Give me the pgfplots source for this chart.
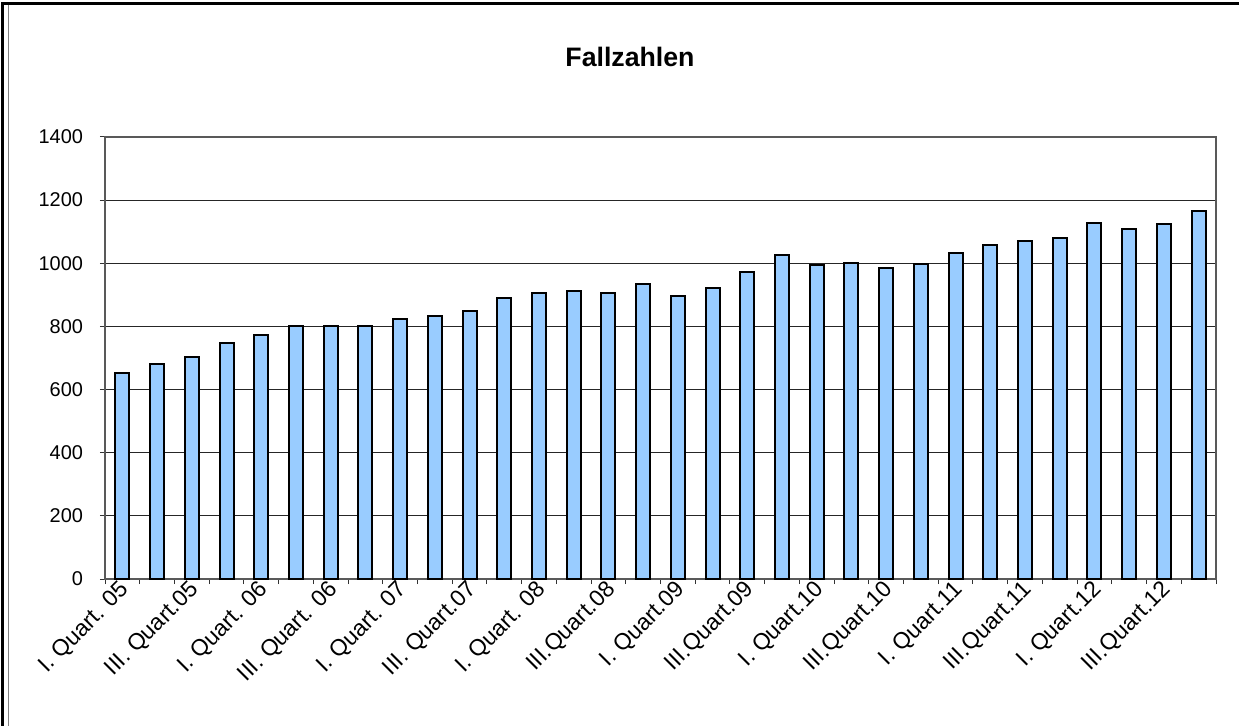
\documentclass[border=0pt]{standalone}
\usepackage{fontspec}
\setmainfont{Liberation Sans}
\usepackage{pgfplots}
\pgfplotsset{compat=1.18}
\definecolor{barblue}{RGB}{153,204,255}
\begin{document}
\begin{tikzpicture}
\path[use as bounding box] (0,0) rectangle (619.5bp,363bp);
\draw[black, line width=1.5bp] (1bp,0) -- (1bp,361.2bp) -- (619.5bp,361.2bp);
\draw[gray, line width=0.6bp] (4.4bp,0) -- (4.4bp,360.3bp);
\node[font=\bfseries\fontsize{13.4}{16}\selectfont, anchor=base] at (315bp,329.5bp) {Fallzahlen};
\begin{axis}[
  at={(52.5bp,73.5bp)}, anchor=south west, scale only axis,
  width=555.5bp, height=221bp,
  xmin=0.5, xmax=32.5, ymin=0, ymax=1400,
  ytick={0,200,...,1400},
  /pgf/number format/assume math mode=true,
  /pgf/number format/1000 sep={},
  ymajorgrids,
  major grid style={black!85, line width=0.55bp},
  axis line style={gray!70!black, line width=0.6bp},
  tick style={black!80, line width=0.5bp},
  tick align=outside, tick pos=left,
  major tick length=2.5bp,
  xtick={0.5,1.5,...,32.5},
  xticklabels={},
  extra x ticks={1,3,...,31},
  extra x tick labels={I. Quart. 05,III. Quart.05,I. Quart. 06,III. Quart. 06,I. Quart. 07,III. Quart.07,I. Quart. 08,III.Quart.08,I. Quart.09,III.Quart.09,I. Quart.10,III.Quart.10,I. Quart.11,III.Quart.11,I. Quart.12,III.Quart.12},
  extra x tick style={major tick length=0pt, xticklabel style={rotate=45, anchor=east, font=\fontsize{11.5}{13}\selectfont, yshift=-4bp, xshift=2bp}},
  yticklabel style={font=\fontsize{10}{12}\selectfont, xshift=-5bp},
  ybar, bar width=7bp,
  clip=false,
]
\addplot[fill=barblue, draw=black, line width=1bp] coordinates {
(1,653) (2,682) (3,703) (4,748) (5,772) (6,800) (7,800) (8,800)
(9,825) (10,833) (11,850) (12,890) (13,907) (14,911) (15,907) (16,933)
(17,895) (18,923) (19,973) (20,1026) (21,993) (22,1000) (23,986) (24,999)
(25,1034) (26,1059) (27,1071) (28,1080) (29,1127) (30,1109) (31,1124) (32,1165)
};
\end{axis}
\end{tikzpicture}
\end{document}
